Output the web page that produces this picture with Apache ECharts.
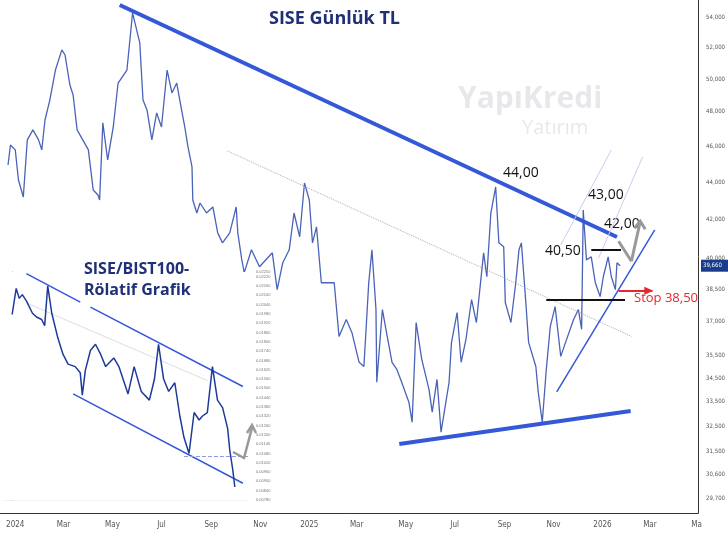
<!DOCTYPE html>
<html><head><meta charset="utf-8">
<script src="https://cdn.jsdelivr.net/npm/echarts@6/dist/echarts.min.js"></script>
<style>html,body{margin:0;padding:0;background:#fff}#main{width:728px;height:540px}</style>
</head><body><div id="main"></div>
<script>
// günlük kapanış (okunan yaklaşık değerler)
var dates = ['2023-12-23','2023-12-26','2024-01-01','2024-01-05','2024-01-11','2024-01-16','2024-01-23','2024-01-30','2024-02-03','2024-02-07',
 '2024-02-13','2024-02-20','2024-02-28','2024-03-03','2024-03-09','2024-03-13','2024-03-18','2024-03-25','2024-04-01','2024-04-07',
 '2024-04-13','2024-04-15','2024-04-19','2024-04-25','2024-05-02','2024-05-08','2024-05-19','2024-05-26','2024-06-04','2024-06-08',
 '2024-06-13','2024-06-19','2024-06-25','2024-07-01','2024-07-08','2024-07-14','2024-07-20','2024-07-26','2024-07-30','2024-08-03',
 '2024-08-08','2024-08-09','2024-08-14','2024-08-18','2024-08-26','2024-09-03','2024-09-09','2024-09-15','2024-09-24','2024-10-02',
 '2024-10-04','2024-10-09','2024-10-12','2024-10-21','2024-10-31','2024-11-16','2024-11-22','2024-11-29','2024-12-07','2024-12-13',
 '2024-12-20','2024-12-26','2025-01-01','2025-01-05','2025-01-10','2025-01-16','2025-01-22','2025-02-01','2025-02-07','2025-02-16',
 '2025-02-23','2025-03-04','2025-03-10','2025-03-16','2025-03-20','2025-03-25','2025-03-26','2025-04-02','2025-04-08','2025-04-14',
 '2025-04-20','2025-04-26','2025-05-05','2025-05-09','2025-05-14','2025-05-21','2025-05-30','2025-06-03','2025-06-09','2025-06-14',
 '2025-06-18','2025-06-24','2025-06-27','2025-07-04','2025-07-09','2025-07-15','2025-07-22','2025-07-28','2025-08-06','2025-08-10',
 '2025-08-15','2025-08-21','2025-08-25','2025-08-31','2025-09-02','2025-09-09','2025-09-15','2025-09-19','2025-09-22','2025-09-27',
 '2025-10-01','2025-10-10','2025-10-13','2025-10-18','2025-10-23','2025-10-28','2025-11-03','2025-11-10','2025-11-16','2025-11-26',
 '2025-12-02','2025-12-06','2025-12-08','2025-12-12','2025-12-18','2025-12-23','2025-12-29','2026-01-02','2026-01-08','2026-01-12',
 '2026-01-17','2026-01-19','2026-01-23'];
var closes = [44.94,46.07,45.79,44.11,43.19,46.36,46.94,46.36,45.79,47.52,
 48.71,50.56,51.84,51.51,49.63,49.02,46.94,46.36,45.79,43.57,
 43.30,43.03,47.35,45.22,47.11,49.75,50.56,54.27,52.29,48.71,
 48.12,46.36,47.94,47.11,50.56,49.14,49.75,48.12,47.11,45.96,
 44.83,43.03,42.34,42.87,42.34,42.66,41.31,40.80,41.31,42.66,
 41.31,39.95,39.32,40.45,39.61,40.30,38.50,39.81,40.45,42.34,
 41.10,43.95,43.03,40.80,41.62,38.83,38.83,38.83,36.33,37.10,
 36.51,35.18,35.00,38.83,40.45,37.56,34.32,37.56,36.33,35.18,
 34.87,34.32,33.48,32.66,36.96,35.31,34.02,33.07,34.44,32.26,
 33.07,34.32,36.06,37.42,35.18,36.20,38.03,36.96,40.30,39.12,
 42.34,43.73,40.80,40.60,37.89,36.96,38.83,40.45,40.80,38.17,
 36.06,35.00,33.89,32.66,34.87,36.78,37.70,35.44,36.06,37.10,
 37.56,36.65,42.50,39.95,40.10,38.83,38.17,39.12,40.10,39.12,
 38.50,39.81,39.66];

var yTicks = [54, 52, 50, 48, 46, 44, 42, 40, 38.5, 37, 35.5, 34.5, 33.5, 32.5, 31.5, 30.6, 29.7];
var xTicks = ['2024-01-01','2024-03-01','2024-05-01','2024-07-01','2024-09-01','2024-11-01','2025-01-01','2025-03-01',
 '2025-05-01','2025-07-01','2025-09-01','2025-11-01','2026-01-01','2026-03-01','2026-04-28'];
var xTickLabels = ['2024','Mar','May','Jul','Sep','Nov','2025','Mar','May','Jul','Sep','Nov','2026','Mar','Ma'];

// rölatif grafik (SISE/BIST100)
var relWeeks = [0,2,3.5,5,7,10,12,14.5,16,17.5,19.5,22.5,25,27.5,31,33.5,34.5,36,38.5,41,43.5,46,50,52.5,57,60,63.5,
 67.5,70,72,74.5,77,80,82.5,84.5,87,89.5,92,93.5,96,98.5,101,103.5,106,107,108.5,109.5];
var relValues = [0.01976,0.02144,0.0208,0.02104,0.02064,0.01984,0.0196,0.01944,0.01904,0.0216,0.01984,0.01824,0.0172,
 0.01656,0.0164,0.016,0.01456,0.01616,0.01744,0.01784,0.0172,0.0164,0.01696,0.0164,0.01464,0.0164,0.0148,0.01424,0.0156,
 0.01784,0.0156,0.0148,0.01536,0.0132,0.01184,0.0108,0.01344,0.01296,0.0132,0.01344,0.0164,0.01424,0.01376,0.0124,
 0.01104,0.00976,0.00864];

var myChart = echarts.init(document.getElementById('main'));

var blue = '#3558d8';
var axisFont = 'DejaVu Sans Condensed, DejaVu Sans';
function t(d) { return +new Date(d + 'T00:00:00Z'); }
function seg(a, b, style) {
    return [{coord: a}, {coord: b, lineStyle: style}];
}
var xTickTimes = xTicks.map(t);

var option = {
    animation: false,
    title: {
        text: 'SISE Günlük TL', left: 264, top: 5,
        textStyle: {fontFamily: 'Open Sans', fontSize: 18, fontWeight: 'bold', color: '#1f2f78'}
    },
    grid: [
        {left: 0, right: 28, top: 0, bottom: 27},
        {left: 4, top: 272, width: 244, height: 228, show: true, backgroundColor: '#fff', borderWidth: 0, z: 5}
    ],
    xAxis: [{
        type: 'value', gridIndex: 0,
        min: t('2023-12-13'), max: t('2026-04-30'),
        axisLine: {lineStyle: {color: '#333'}},
        axisTick: {show: false},
        splitLine: {show: false},
        axisLabel: {
            customValues: xTickTimes,
            fontSize: 8, color: '#555', fontFamily: axisFont,
            formatter: function (v) {
                var i = xTickTimes.indexOf(v);
                return i >= 0 ? xTickLabels[i] : '';
            }
        }
    }, {
        type: 'value', gridIndex: 1, min: -4, max: 116,
        axisLine: {show: false}, axisTick: {show: false}, splitLine: {show: false},
        axisLabel: {show: false}
    }],
    yAxis: [{
        type: 'log', gridIndex: 0, position: 'right', logBase: Math.E,
        min: 29.18, max: 55.15,
        axisLine: {show: true, lineStyle: {color: '#333'}},
        axisTick: {show: false},
        splitLine: {show: false},
        axisLabel: {
            customValues: yTicks, fontSize: 6, color: '#555', fontFamily: axisFont,
            formatter: function (v) { return v.toFixed(3).replace('.', ','); }
        }
    }, {
        type: 'value', gridIndex: 1, position: 'right', min: 0.0078, max: 0.0225, interval: 0.0006,
        axisLine: {show: true, lineStyle: {color: '#888'}},
        axisTick: {show: false},
        splitLine: {show: true, lineStyle: {color: '#f3f3f3'}},
        axisLabel: {fontSize: 4, color: '#777', formatter: function (v) { return v.toFixed(5); }}
    }],
    series: [{
        type: 'line', xAxisIndex: 0, yAxisIndex: 0,
        data: dates.map(function (d, i) { return [t(d), closes[i]]; }),
        showSymbol: false, lineStyle: {color: '#4a62b8', width: 1.3},
        markLine: {
            silent: true, symbol: 'none',
            label: {show: false},
            data: [
                seg([t('2024-05-10'), 54.81], [t('2026-01-19'), 41.10], {color: blue, width: 4, type: 'solid'}),
                seg([t('2025-04-23'), 31.79], [t('2026-02-05'), 33.12], {color: blue, width: 4, type: 'solid'}),
                seg([t('2024-09-21'), 45.73], [t('2026-02-06'), 36.33], {color: '#aaa', width: 1, type: 'dotted'}),
                seg([t('2025-11-05'), 33.91], [t('2026-03-07'), 41.46], {color: blue, width: 1.5, type: 'solid'}),
                seg([t('2025-11-10'), 40.69], [t('2026-01-12'), 45.79], {color: '#c7cdf0', width: 1, type: 'solid'}),
                seg([t('2025-12-27'), 40.03], [t('2026-02-20'), 45.39], {color: '#c7cdf0', width: 1, type: 'solid'}),
                seg([t('2025-10-23'), 38.0], [t('2026-01-29'), 38.0], {color: '#111', width: 2, type: 'solid'}),
                seg([t('2025-12-18'), 40.45], [t('2026-01-24'), 40.45], {color: '#111', width: 2, type: 'solid'}),
                seg([t('2026-01-21'), 38.45], [t('2026-03-04'), 38.45], {color: '#e8262b', width: 2, type: 'solid'}),
                seg([t('2026-01-21'), 40.88], [t('2026-02-06'), 39.88], {color: '#999', width: 3, type: 'solid'}),
                seg([t('2026-02-06'), 39.88], [t('2026-02-17'), 41.91], {color: '#999', width: 3, type: 'solid'})
            ]
        },
        z: 2
    }, {
        type: 'line', xAxisIndex: 1, yAxisIndex: 1,
        data: relWeeks.map(function (w, i) { return [w, relValues[i]]; }),
        showSymbol: false, lineStyle: {color: '#1f3a9a', width: 1.5}, z: 6,
        markLine: {
            silent: true, symbol: 'none', label: {show: false},
            data: [
                seg([7, 0.0224], [33.5, 0.02056], {color: blue, width: 1.5, type: 'solid'}),
                seg([38.5, 0.02024], [113.5, 0.01512], {color: blue, width: 1.5, type: 'solid'}),
                seg([30, 0.01464], [113.5, 0.00888], {color: blue, width: 1.5, type: 'solid'}),
                seg([84.5, 0.01064], [116, 0.01064], {color: '#8a9be0', width: 1, type: 'dashed'}),
                seg([7, 0.0205], [96, 0.0155], {color: '#ddd', width: 1, type: 'solid'})
            ]
        }
    }],
    graphic: [
        {type: 'text', left: 458, top: 84, z: 0, style: {text: 'YapıKredi', fontSize: 30, fontWeight: 'bold', fontFamily: 'Open Sans', fill: 'rgba(190,190,200,0.35)'}},
        {type: 'text', left: 522, top: 118, z: 0, style: {text: 'Yatırım', fontSize: 20, fontFamily: 'Open Sans', fill: 'rgba(190,190,200,0.35)'}},
        {type: 'text', left: 503, top: 166, style: {text: '44,00', fontSize: 14, fontFamily: 'Open Sans', fill: '#111'}},
        {type: 'text', left: 588, top: 188, style: {text: '43,00', fontSize: 14, fontFamily: 'Open Sans', fill: '#111'}},
        {type: 'text', left: 604, top: 217, style: {text: '42,00', fontSize: 14, fontFamily: 'Open Sans', fill: '#111'}},
        {type: 'text', left: 545, top: 244, style: {text: '40,50', fontSize: 14, fontFamily: 'Open Sans', fill: '#111'}},
        {type: 'text', left: 634, top: 292, style: {text: 'Stop 38,50', fontSize: 13, fontFamily: 'Open Sans', fill: '#e8262b'}},
        {type: 'text', left: 84, top: 259, z: 20, style: {text: 'SISE/BIST100-\nRölatif Grafik', fontSize: 16, lineHeight: 21, fontWeight: 'bold', fontFamily: 'Open Sans', fill: '#1f2f78'}},
        {type: 'polyline', z: 20, shape: {points: [[233, 452], [244, 458], [252, 428]]}, style: {stroke: '#999', lineWidth: 2.5, fill: null}},
        {type: 'polyline', z: 20, shape: {points: [[247, 433], [252, 425], [256, 433]]}, style: {stroke: '#999', lineWidth: 2.5, fill: null}}
    ]
};

myChart.setOption(option);

// son fiyat etiketi ve oklar
var p = myChart.convertToPixel({gridIndex: 0}, [t('2026-01-23'), 39.66]);
var r = myChart.convertToPixel({gridIndex: 0}, [t('2026-03-04'), 38.45]);
var g = myChart.convertToPixel({gridIndex: 0}, [t('2026-02-17'), 41.91]);
myChart.setOption({graphic: option.graphic.concat([
    {type: 'polygon', z: 30, shape: {points: [[r[0] - 8, r[1] - 4], [r[0] + 1, r[1]], [r[0] - 8, r[1] + 4]]}, style: {fill: '#e8262b'}},
    {type: 'polyline', z: 30, shape: {points: [[g[0] - 6, g[1] + 7], [g[0], g[1]], [g[0] + 5, g[1] + 8]]}, style: {stroke: '#999', lineWidth: 3, fill: null}},
    {type: 'rect', left: 701, top: p[1] - 6, z: 30, shape: {width: 27, height: 12}, style: {fill: '#1a3a8c'}},
    {type: 'text', left: 703, top: p[1] - 3, z: 31, style: {text: '39,660', fontSize: 6, fill: '#fff', fontFamily: axisFont}}
])});
</script>
</body></html>
